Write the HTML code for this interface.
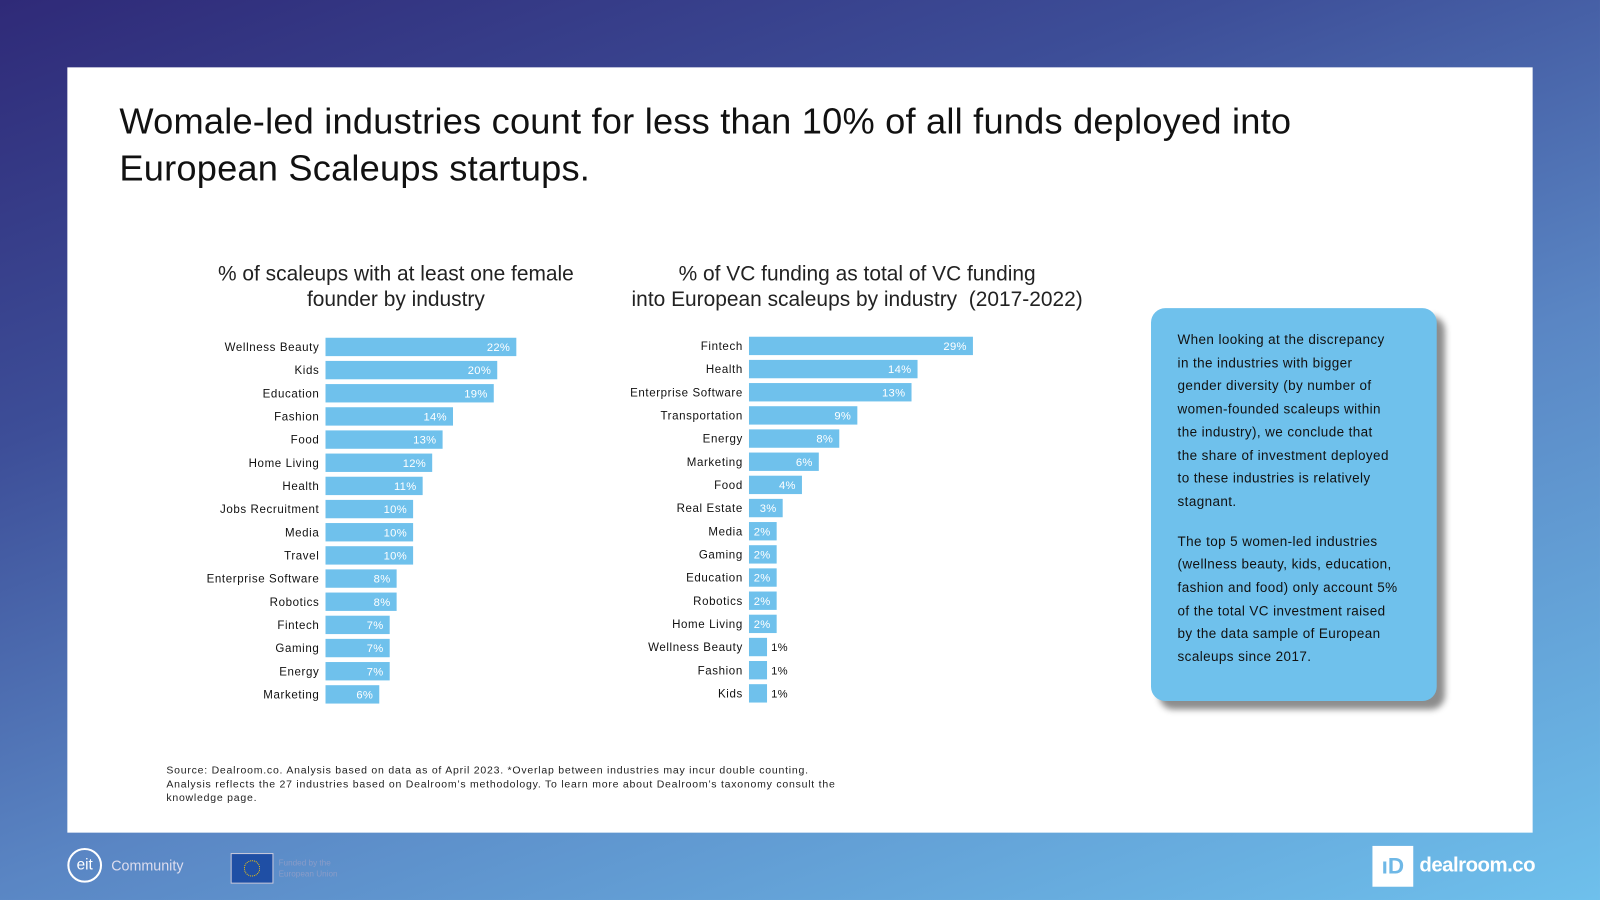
<!DOCTYPE html>
<html><head><meta charset="utf-8"><style>
html,body{margin:0;padding:0;width:1600px;height:900px;overflow:hidden;font-family:"Liberation Sans",sans-serif}
#root{position:absolute;left:0;top:0;width:1568px;height:882px;transform:scale(1.0204);transform-origin:0 0;
background:linear-gradient(160deg,#2f2a78 0%,#3d4e98 30%,#5a86c4 60%,#6ec0ec 100%)}
#card{position:absolute;left:66px;top:66px;width:1436px;height:750px;background:#fff}
#title{position:absolute;left:117px;top:96px;font-size:35.5px;line-height:46px;color:#111;margin:0;font-weight:normal;letter-spacing:0.2px}
.sub{position:absolute;font-size:20.5px;line-height:25px;color:#222;text-align:center}
#note{position:absolute;left:1128px;top:302px;width:280px;height:385px;background:#6fc1ec;border-radius:14px;box-shadow:8px 8px 6px rgba(0,0,0,.45)}
#note p{margin:0 0 16px 26px;font-size:13.2px;line-height:22.7px;color:#111;letter-spacing:.4px;white-space:nowrap}
#src{position:absolute;left:163px;top:749px;font-size:10.3px;line-height:13.6px;color:#222;letter-spacing:.75px;white-space:nowrap}
</style></head><body>
<div id="root">
<div id="card"></div>
<h1 id="title">Womale-led industries count for less than 10% of all funds deployed into<br>European Scaleups startups.</h1>
<div class="sub" style="left:188px;top:256px;width:400px">% of scaleups with at least one female<br>founder by industry</div>
<div class="sub" style="left:590px;top:256px;width:500px">% of VC funding as total of VC funding<br>into European scaleups by industry&nbsp; (2017-2022)</div>
<svg id="charts" width="1568" height="882" style="position:absolute;left:0;top:0"></svg>
<div id="note"><div style="height:20px"></div>
<p>When looking at the discrepancy<br>in the industries with bigger<br>gender diversity (by number of<br>women-founded scaleups within<br>the industry), we conclude that<br>the share of investment deployed<br>to these industries is relatively<br>stagnant.</p>
<p>The top 5 women-led industries<br>(wellness beauty, kids, education,<br>fashion and food) only account 5%<br>of the total VC investment raised<br>by the data sample of European<br>scaleups since 2017.</p></div>
<div id="src">Source: Dealroom.co. Analysis based on data as of April 2023. *Overlap between industries may incur double counting.<br>Analysis reflects the 27 industries based on Dealroom’s methodology. To learn more about Dealroom’s taxonomy consult the<br>knowledge page.</div>
<div style="position:absolute;left:66px;top:831px;width:34px;height:34px;border:2px solid #fff;border-radius:50%;box-sizing:border-box;color:#fff;font-size:15px;text-align:center;line-height:30px">eit</div>
<div style="position:absolute;left:109px;top:840px;color:#dde;font-size:14px">Community</div>
<div style="position:absolute;left:226px;top:836px;width:40px;height:28px;background:#1f4fa5;border:1px solid #ccd"><div style="position:absolute;left:12px;top:6px;width:14px;height:14px;border:1px dotted #fc0;border-radius:50%"></div></div>
<div style="position:absolute;left:273px;top:840px;color:#8a9cc8;font-size:8px;line-height:11px">Funded by the<br>European Union</div>
<div style="position:absolute;left:1345px;top:829px;width:40px;height:40px;background:#fff;color:#6fb8e6;font-weight:bold;font-size:22px;line-height:40px;text-align:center">ıD</div>
<div style="position:absolute;left:1391px;top:837px;color:#fff;font-weight:bold;font-size:20px;letter-spacing:-0.5px">dealroom.co</div>
</div>
<script>
const leftCats=["Wellness Beauty","Kids","Education","Fashion","Food","Home Living","Health","Jobs Recruitment","Media","Travel","Enterprise Software","Robotics","Fintech","Gaming","Energy","Marketing"];
const leftVals=[22,19.8,19.4,14.7,13.5,12.3,11.2,10.1,10.1,10.1,8.2,8.2,7.4,7.4,7.4,6.2];
const leftLabels=["22%","20%","19%","14%","13%","12%","11%","10%","10%","10%","8%","8%","7%","7%","7%","6%"];
const rightCats=["Fintech","Health","Enterprise Software","Transportation","Energy","Marketing","Food","Real Estate","Media","Gaming","Education","Robotics","Home Living","Wellness Beauty","Fashion","Kids"];
const rightVals=[18.6,14,13.5,9,7.5,5.8,4.4,2.8,2.3,2.3,2.3,2.3,2.3,1.5,1.5,1.5];
const rightLabels=["29%","14%","13%","9%","8%","6%","4%","3%","2%","2%","2%","2%","2%","1%","1%","1%"];
const NS="http://www.w3.org/2000/svg";
const svg=document.getElementById('charts');
function mk(t,a){const e=document.createElementNS(NS,t);for(const k in a)e.setAttribute(k,a[k]);svg.appendChild(e);return e;}
function chart(cats,vals,labs,x0,pxPer,y0,step,name){
  const xs=v=>x0+v*pxPer, ys=i=>y0+i*step;
  cats.forEach((c,i)=>{
    const w=xs(vals[i])-x0, yc=ys(i);
    const r=mk('rect',{x:x0,y:yc-9,width:w,height:18,fill:'#6fc1ec'});
    
    
    const t=mk('text',{x:x0-6,y:yc+4,'text-anchor':'end','font-size':'11.3','letter-spacing':'0.6',fill:'#111'});
    t.textContent=c;
    
    
    const inside=w>24;
    const l=mk('text',{x:inside?x0+w-6:x0+w+4,y:yc+4,'text-anchor':inside?'end':'start','font-size':'11','letter-spacing':'0.3',fill:inside?'#fff':'#111'});
    l.textContent=labs[i];
    
    
  });
}
chart(leftCats,leftVals,leftLabels,319,8.5,340,22.7,'female-founder');
chart(rightCats,rightVals,rightLabels,734,11.8,339,22.7,'vc-funding');
</script>
</body></html>
